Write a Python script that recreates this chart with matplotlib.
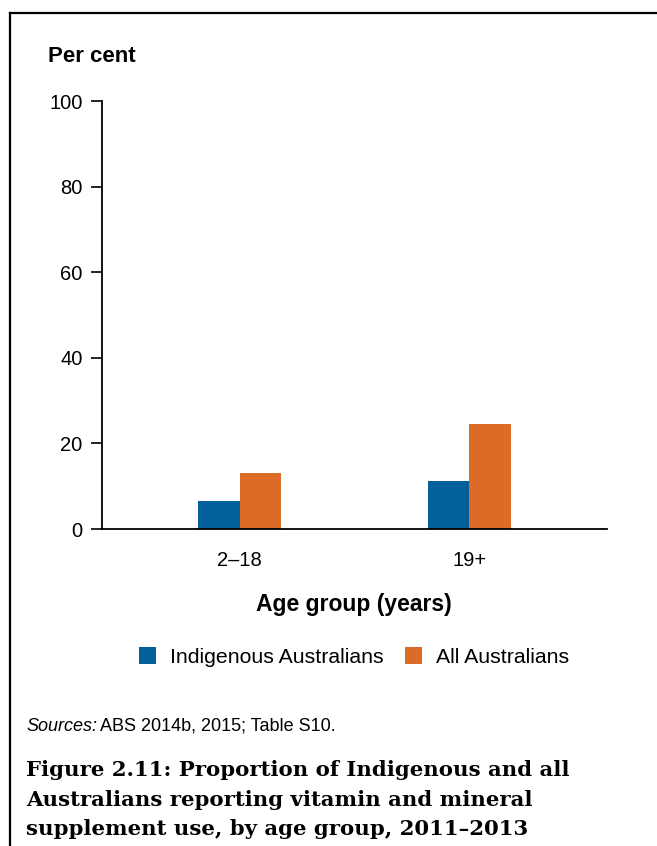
import matplotlib.pyplot as plt
import numpy as np
from matplotlib.lines import Line2D
from matplotlib.patches import Patch

plt.rcParams['font.family'] = 'Liberation Sans'

# datos
grupos = ['2–18', '19+']
indigenas = [6.5, 11.2]
todos = [13.1, 24.5]
series = ['Indigenous Australians', 'All Australians']
color_azul = '#03609A'
color_naranja = '#DC6B27'

fig = plt.figure(figsize=(6.57, 8.46), dpi=100)
ax = fig.add_axes([0.1553, 0.3747, 0.7686, 0.5059])

x = np.arange(len(grupos))
ancho = 0.18
ax.bar(x - ancho / 2, indigenas, ancho, color=color_azul)
ax.bar(x + ancho / 2, todos, ancho, color=color_naranja)

ax.set_xlim(-0.6, 1.6)
ax.set_ylim(0, 100)
ax.set_yticks([0, 20, 40, 60, 80, 100])
ax.set_xticks(x)
ax.set_xticklabels(grupos)
ax.tick_params(axis='y', length=8, width=1.2, pad=6, labelsize=14.5)
ax.tick_params(axis='x', length=0, pad=16, labelsize=14.5)
for lado in ['top', 'right']:
    ax.spines[lado].set_visible(False)
for lado in ['left', 'bottom']:
    ax.spines[lado].set_linewidth(1.3)

# textos
fig.text(48 / 657, 1 - 57 / 846, 'Per cent', fontsize=16, fontweight='bold', va='center', ha='left')
fig.text(354 / 657, 1 - 605 / 846, 'Age group (years)', fontsize=16.5, fontweight='bold', va='center', ha='center')

handles = [Patch(facecolor=color_azul), Patch(facecolor=color_naranja)]
fig.legend(handles, series, loc='center', bbox_to_anchor=(354 / 657, 1 - 657 / 846), ncol=2,
           frameon=False, fontsize=15.3, handlelength=0.8, handleheight=0.8,
           handletextpad=0.65, columnspacing=1.0)

fig.text(26 / 657, 1 - 726 / 846, 'Sources:', fontsize=13, style='italic', va='center', ha='left')
fig.text(100 / 657, 1 - 726 / 846, 'ABS 2014b, 2015; Table S10.', fontsize=13, va='center', ha='left')

titulo = ('Figure 2.11: Proportion of Indigenous and all\n'
          'Australians reporting vitamin and mineral\n'
          'supplement use, by age group, 2011–2013')
fig.text(26 / 657, 1 - 760 / 846, titulo, fontsize=15.3, fontweight='bold', family='DejaVu Serif',
         va='top', ha='left', linespacing=1.6)

# marco
fig.add_artist(Line2D([10 / 657, 10 / 657], [0, 1 - 13 / 846], color='black', lw=1.6,
                      transform=fig.transFigure))
fig.add_artist(Line2D([10 / 657, 1], [1 - 13 / 846, 1 - 13 / 846], color='black', lw=1.6,
                      transform=fig.transFigure))

plt.savefig('out.png', dpi=100)
